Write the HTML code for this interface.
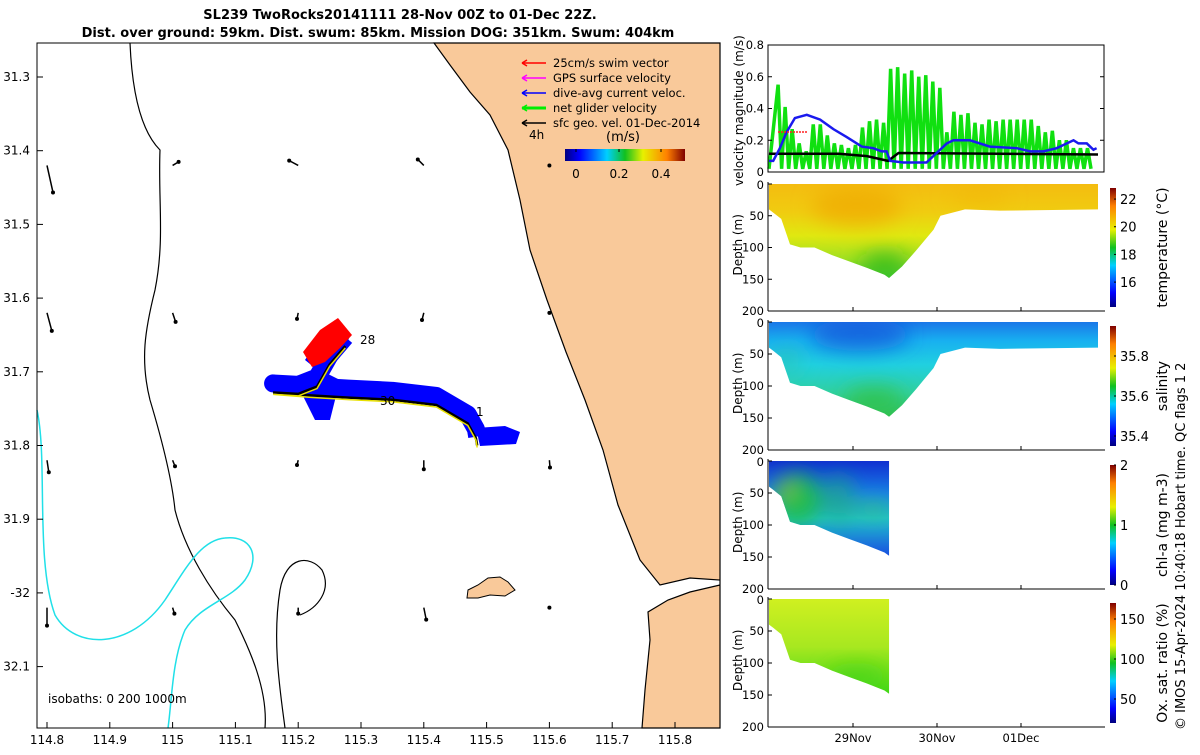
<!DOCTYPE html>
<html><head><meta charset="utf-8"><style>
body{margin:0;background:#fff;width:1200px;height:750px;overflow:hidden;font-family:"Liberation Sans","DejaVu Sans",sans-serif}
svg text{font-family:"DejaVu Sans","Liberation Sans",sans-serif}
</style></head><body>
<svg id="fig" width="1200" height="750" viewBox="0 0 1200 750" xmlns="http://www.w3.org/2000/svg">
<defs>
<filter id="blur" x="-50%" y="-50%" width="200%" height="200%"><feGaussianBlur stdDeviation="10"/></filter>
<linearGradient id="jetH" x1="0" x2="1" y1="0" y2="0">
<stop offset="0" stop-color="#00007f"/><stop offset="0.12" stop-color="#0000ff"/><stop offset="0.35" stop-color="#00cfff"/><stop offset="0.5" stop-color="#10c020"/><stop offset="0.65" stop-color="#e8f000"/><stop offset="0.85" stop-color="#ff8000"/><stop offset="1" stop-color="#7f0000"/></linearGradient>
<linearGradient id="jetV" x1="0" x2="0" y1="1" y2="0">
<stop offset="0" stop-color="#00007f"/><stop offset="0.12" stop-color="#0000ff"/><stop offset="0.35" stop-color="#00cfff"/><stop offset="0.5" stop-color="#10c020"/><stop offset="0.65" stop-color="#e8f000"/><stop offset="0.85" stop-color="#ff8000"/><stop offset="1" stop-color="#7f0000"/></linearGradient>
<linearGradient id="tempG" x1="0" x2="0" y1="0" y2="1"><stop offset="0" stop-color="#f4bc10"/><stop offset="0.3" stop-color="#f0cc10"/><stop offset="0.55" stop-color="#e0e810"/><stop offset="0.8" stop-color="#a0e020"/><stop offset="1" stop-color="#40c830"/></linearGradient>
<linearGradient id="salG" x1="0" x2="0" y1="0" y2="1"><stop offset="0" stop-color="#1a78e8"/><stop offset="0.2" stop-color="#18b0f0"/><stop offset="0.45" stop-color="#20d0e0"/><stop offset="0.75" stop-color="#30d0a0"/><stop offset="1" stop-color="#30c050"/></linearGradient>
<linearGradient id="chlG" x1="0" x2="0" y1="0" y2="1"><stop offset="0" stop-color="#1030d0"/><stop offset="0.35" stop-color="#1880e8"/><stop offset="0.6" stop-color="#20c0d0"/><stop offset="1" stop-color="#1850e0"/></linearGradient>
<linearGradient id="oxG" x1="0" x2="0" y1="0" y2="1"><stop offset="0" stop-color="#d0f020"/><stop offset="0.5" stop-color="#a8e820"/><stop offset="1" stop-color="#40d818"/></linearGradient>
</defs>
<g id="map"></g>
<g id="vel"></g>
<g id="secs"></g>
<text x="400" y="19" text-anchor="middle" font-size="13" font-weight="bold">SL239 TwoRocks20141111 28-Nov 00Z to 01-Dec 22Z.</text>
<text x="378" y="37" text-anchor="middle" font-size="13" font-weight="bold">Dist. over ground: 59km. Dist. swum: 85km. Mission DOG: 351km. Swum: 404km</text>
<text transform="translate(1185,730) rotate(-90)" font-size="13">© IMOS 15-Apr-2024 10:40:18 Hobart time. QC flags 1  2</text>
</svg>
<script>
const NS="http://www.w3.org/2000/svg";
function mk(p,t,a){const e=document.createElementNS(NS,t);for(const k in a)e.setAttribute(k,a[k]);p.appendChild(e);return e;}
// ---------- MAP ----------
const lonTicks=[114.8,114.9,115,115.1,115.2,115.3,115.4,115.5,115.6,115.7,115.8];
const latTicks=[31.3,31.4,31.5,31.6,31.7,31.8,31.9,32,32.1];
const latLabels=["31.3","31.4","31.5","31.6","31.7","31.8","31.9","-32","32.1"];
const arrowLon=[114.8,115,115.2,115.4,115.6];
const arrowLat=[31.42,31.62,31.82,32.02,32.22];
const arrowU=[[0.1,0.1,-0.15,-0.1,0],[0.08,0.05,-0.02,-0.03,0],[0.03,0.04,-0.02,0.0,0.01],[0,0.03,0,0.04,0.0],[0,0,0,0,0]];
const arrowV=[[0.45,-0.06,-0.08,-0.1,0],[0.3,0.15,0.1,0.12,0],[0.2,0.1,0.08,0.15,0.12],[0.3,0.1,0.1,0.2,0],[0.1,0.1,0.05,0.05,0]];
const trackLon=[115.485,115.483,115.47,115.42,115.35,115.28,115.22,115.16,115.2,115.23,115.25,115.275];
const trackLat=[31.80,31.79,31.77,31.745,31.738,31.735,31.732,31.728,31.73,31.72,31.69,31.665];
const lx=l=>47+(l-114.8)*628, ly=l=>77+(l-31.3)*737;
const map=document.getElementById('map');
const land=mk(map,'polygon',{points:"434,43 720,43 720,728 642,728 645,690 650,640 648,612 668,600 690,592 720,585 720,580 690,578 660,585 640,560 618,505 603,450 585,400 566,352 547,300 530,250 520,200 508,150 490,115 470,92 450,65",fill:"#f9c99a",stroke:"#000","stroke-width":1.2});

const isl=mk(map,'polygon',{points:"468,590 478,585 488,578 500,577 508,582 515,590 505,596 490,595 478,598 467,598",fill:"#f9c99a",stroke:"#000","stroke-width":1});

const iso1=mk(map,'path',{d:"M130,43 C132,90 140,130 160,150 C158,200 165,240 155,290 C145,330 140,360 150,400 C162,440 172,480 175,510 C185,550 210,590 235,620 C250,650 268,690 265,728",fill:"none",stroke:"#000","stroke-width":1.2});

const iso2=mk(map,'path',{d:"M285,728 C280,690 272,640 280,590 C286,555 310,555 322,570 C332,590 318,608 300,615",fill:"none",stroke:"#000","stroke-width":1.2});

const iso3=mk(map,'path',{d:"M37,410 C48,460 35,560 55,615 C75,650 130,650 165,600 C185,570 200,540 225,538 C250,535 262,555 245,580 C230,600 200,605 185,630 C172,660 172,700 168,728",fill:"none",stroke:"#20e0e8","stroke-width":1.5});

mk(map,'rect',{x:37,y:43,width:683,height:685,fill:"none",stroke:"#000","stroke-width":1});
lonTicks.forEach(l=>{const x=lx(l);mk(map,'line',{x1:x,x2:x,y1:728,y2:722,stroke:"#000"});const t=mk(map,'text',{x:x,y:744,"text-anchor":"middle","font-size":12});t.textContent=String(l);});
latTicks.forEach((l,i)=>{const y=ly(l);mk(map,'line',{x1:37,x2:43,y1:y,y2:y,stroke:"#000"});const t=mk(map,'text',{x:30,y:y+4,"text-anchor":"end","font-size":12});t.textContent=latLabels[i];});
arrowLon.forEach((lo,i)=>arrowLat.forEach((la,j)=>{const x=lx(lo),y=ly(la);if(y>726)return;const u=arrowU[j][i],v=arrowV[j][i];
 const a=mk(map,'line',{x1:x,y1:y,x2:x+u*60,y2:y+v*60,stroke:"#000","stroke-width":1.5});
 
 mk(map,'circle',{cx:x+u*60,cy:y+v*60,r:2,fill:"#000"});}));
const pts=trackLon.map((l,i)=>lx(l)+','+ly(trackLat[i])).join(' ');
const blob=mk(map,'polyline',{points:trackLon.map((l,i)=>lx(l)+','+(ly(trackLat[i])-9)).join(' '),fill:"none",stroke:"#0000ff","stroke-width":18,"stroke-linejoin":"round"});

mk(map,'polygon',{points:"476,428 505,426 520,432 516,444 480,446",fill:"#0000ff"});
mk(map,'polygon',{points:"320,372 305,360 318,340 335,320 350,335 345,350 330,370",fill:"#0000ff"});
mk(map,'polygon',{points:"300,390 320,370 340,380 330,420 315,420",fill:"#0000ff"});
const red=mk(map,'polygon',{points:"303,352 320,330 338,318 352,335 340,348 325,362 312,367",fill:"#ff0000"});

const tr=mk(map,'polyline',{points:pts,fill:"none",stroke:"#000","stroke-width":2.5});

mk(map,'polyline',{points:trackLon.map((l,i)=>lx(l)+','+(ly(trackLat[i])+2)).join(' '),fill:"none",stroke:"#e8e000","stroke-width":1.5});
[["1",476,416],["28",360,344],["30",380,405]].forEach(d=>{const t=mk(map,'text',{x:d[1],y:d[2],"font-size":12});t.textContent=d[0];});
const isoT=mk(map,'text',{x:48,y:703,"font-size":12});isoT.textContent="isobaths: 0   200  1000m";
const legC=["#ff0000","#ff00ff","#0000ff","#00ee00","#000"],legT=["25cm/s swim vector","GPS surface velocity","dive-avg current veloc.","net glider velocity","sfc geo. vel. 01-Dec-2014"];
legC.forEach((c,i)=>{const y=63+i*15;const l=mk(map,'line',{x1:522,x2:546,y1:y,y2:y,stroke:c,"stroke-width":i==3?3:1.5});
 mk(map,'path',{d:`M522,${y} l5,-3 M522,${y} l5,3`,stroke:c,"stroke-width":1.5});
 const t=mk(map,'text',{x:553,y:y+4,"font-size":11.5});t.textContent=legT[i];});
let t=mk(map,'text',{x:529,y:139,"font-size":12});t.textContent="4h";
t=mk(map,'text',{x:606,y:141,"font-size":13});t.textContent="(m/s)";
const cb=mk(map,'rect',{x:565,y:149,width:120,height:12,fill:"url(#jetH)"});
[["0",576],["0.2",619],["0.4",661]].forEach(d=>{mk(map,'line',{x1:d[1],x2:d[1],y1:149,y2:152,stroke:"#000"});const q=mk(map,'text',{x:d[1],y:178,"text-anchor":"middle","font-size":12});q.textContent=d[0];});

// ---------- VELOCITY PANEL ----------
const greenPeaks=[0.55,0.41,0.27,0.18,0.13,0.3,0.3,0.23,0.18,0.17,0.15,0.17,0.28,0.32,0.33,0.31,0.65,0.66,0.62,0.64,0.6,0.61,0.57,0.53,0.25,0.38,0.36,0.37,0.31,0.3,0.33,0.32,0.33,0.33,0.33,0.33,0.33,0.29,0.25,0.26,0.2,0.2,0.15,0.15,0.15];
const greenTrough=0.02;
const blueHours=[0,1.2,3.1,5,7.4,10.8,14.6,18.4,22.2,26.5,29.8,32.2,33.6,34.6,38.4,45,47.9,50.8,52.7,57.4,63.1,70.8,74.6,78.4,82.2,87,88.4,90.8,92.7,93.6];
const blueVals=[0.07,0.07,0.15,0.25,0.34,0.36,0.33,0.27,0.22,0.16,0.15,0.13,0.13,0.07,0.06,0.06,0.12,0.18,0.2,0.2,0.16,0.15,0.13,0.13,0.15,0.2,0.18,0.18,0.14,0.15];
const blackHours=[0,20,28,34,37,94];
const blackVals=[0.115,0.115,0.1,0.07,0.12,0.11];
const velTicks=[0,0.2,0.4,0.6,0.8];
const vx=h=>769+h*3.5, vy=v=>172-v*158.75;
const vel=document.getElementById('vel');
const gp=[];const h0=2.6,h1=91,n=greenPeaks.length,step=(h1-h0)/(n-1);
gp.push([vx(0),vy(greenTrough)]);
greenPeaks.forEach((p,i)=>{const h=h0+i*step;gp.push([vx(h),vy(p)]);gp.push([vx(h+step/2),vy(greenTrough)]);});
const gl=mk(vel,'polyline',{points:gp.map(p=>p.join(',')).join(' '),fill:"none",stroke:"#10e010","stroke-width":3.5});

const kl=mk(vel,'polyline',{points:blackHours.map((h,i)=>vx(h)+','+vy(blackVals[i])).join(' '),fill:"none",stroke:"#000","stroke-width":2.5});

const bl=mk(vel,'polyline',{points:blueHours.map((h,i)=>vx(h)+','+vy(blueVals[i])).join(' '),fill:"none",stroke:"#1a1aee","stroke-width":2.5});

mk(vel,'line',{x1:778,x2:808,y1:132,y2:132,stroke:"#ff2020","stroke-width":1.5,"stroke-dasharray":"2,1"});
mk(vel,'rect',{x:768,y:45,width:336,height:127,fill:"none",stroke:"#000"});
velTicks.forEach(v=>{const y=vy(v);mk(vel,'line',{x1:768,x2:772,y1:y,y2:y,stroke:"#000"});mk(vel,'line',{x1:1100,x2:1104,y1:y,y2:y,stroke:"#000"});const q=mk(vel,'text',{x:764,y:y+4,"text-anchor":"end","font-size":11.5});q.textContent=v===0?"0":String(v);});
t=mk(vel,'text',{transform:"translate(743,186) rotate(-90)","font-size":12});t.textContent="velocity magnitude (m/s)";

// ---------- SECTIONS ----------
const profHours=[0,1.2,3.5,6,9,13,18,23,28,33,34.3];
const profDepth=[40,45,55,95,100,100,112,122,132,143,148];
const tempHours=[34.3,38,42,47,49,56,66,94];
const tempDepth=[148,130,105,72,50,40,42,40];
const depthTicks=[0,50,100,150,200];
const dayLabels=["29Nov","30Nov","01Dec"];
const dayHours=[24,48,72];
const secs=document.getElementById('secs');
const panels=[
 {top:184,bot:311,fill:"url(#tempG)",full:true,cb:{ticks:[16,18,20,22],min:14.2,max:22.8,lab:"temperature (°C)"},name:"temperature",
  blobs:[[25,35,45,30,"#f0a800",0.7],[33,125,25,18,"#20b020",0.7],[60,20,30,15,"#f0b000",0.4]]},
 {top:322,bot:450,fill:"url(#salG)",full:true,cb:{ticks:[35.4,35.6,35.8],lbl:["35.4","35.6","35.8"],min:35.35,max:35.95,lab:"salinity"},name:"salinity",
  blobs:[[26,20,50,25,"#1050d8",0.7],[30,120,30,18,"#30c040",0.8],[5,60,15,20,"#30c0a0",0.5]]},
 {top:461,bot:589,fill:"url(#chlG)",full:false,cb:{ticks:[0,1,2],min:0,max:2,lab:"chl-a (mg m-3)"},name:"chl-a",
  blobs:[[8,60,25,40,"#20c040",0.9],[20,60,15,40,"#20b070",0.6],[30,75,20,15,"#30c070",0.6],[5,45,4,7,"#f0c000",1]]},
 {top:599,bot:727,fill:"url(#oxG)",full:false,cb:{ticks:[50,100,150],min:20,max:170,lab:"Ox. sat. ratio (%)"},name:"oxygen",
  blobs:[[25,120,30,20,"#40d018",0.6]]}];
panels.forEach((P,pi)=>{
 const dy=d=>P.top+d*(P.bot-P.top)/200;
 let pts=[[vx(0),dy(0)]];
 if(P.full){pts.push([vx(94),dy(0)]);for(let i=tempHours.length-1;i>=0;i--)pts.push([vx(tempHours[i]),dy(tempDepth[i])]);}
 else{pts.push([vx(34.3),dy(0)]);}
 for(let i=profHours.length-1;i>=0;i--)pts.push([vx(profHours[i]),dy(profDepth[i])]);
 const ps=pts.map(p=>p.join(',')).join(' ');
 const cp=mk(document.querySelector('defs'),'clipPath',{id:'cp'+pi});mk(cp,'polygon',{points:ps});
 const poly=mk(secs,'polygon',{points:ps,fill:P.fill});
 
 const g=mk(secs,'g',{"clip-path":`url(#cp${pi})`});
 const g2=mk(g,'g',{filter:"url(#blur)"});
 P.blobs.forEach(b=>mk(g2,'ellipse',{cx:vx(b[0]),cy:dy(b[1]),rx:b[2]*(b[2]<6?1:1),ry:b[3]*0.64,fill:b[4],opacity:b[5]}));
 mk(secs,'line',{x1:768,x2:768,y1:P.top-2,y2:P.bot,stroke:"#000"});
 mk(secs,'line',{x1:768,x2:1105,y1:P.bot,y2:P.bot,stroke:"#000"});
 depthTicks.forEach(d=>{const y=dy(d);mk(secs,'line',{x1:768,x2:772,y1:y,y2:y,stroke:"#000"});const q=mk(secs,'text',{x:764,y:y+(d===0?5:4),"text-anchor":"end","font-size":11.5});q.textContent=String(d);});
 dayHours.forEach(h=>mk(secs,'line',{x1:vx(h),x2:vx(h),y1:P.bot,y2:P.bot-4,stroke:"#000"}));
 const q=mk(secs,'text',{transform:`translate(742,${(P.top+P.bot)/2+28}) rotate(-90)`,"font-size":12});q.textContent="Depth (m)";
 const c=P.cb,cy0=P.top+4,cy1=P.bot-4;const cyv=v=>cy1-(v-c.min)/(c.max-c.min)*(cy1-cy0);
 const r=mk(secs,'rect',{x:1110,y:cy0,width:6,height:cy1-cy0,fill:"url(#jetV)"});
 c.ticks.forEach((v,i)=>{const y=cyv(v);mk(secs,'line',{x1:1114,x2:1116,y1:y,y2:y,stroke:"#000"});const s=mk(secs,'text',{x:1120,y:y+5,"font-size":13});s.textContent=c.lbl?c.lbl[i]:String(v);});
 const lt=mk(secs,'text',{transform:`translate(1167,${(P.top+P.bot)/2}) rotate(-90)`,"text-anchor":"middle","font-size":14});lt.textContent=c.lab;
});
dayLabels.forEach((d,i)=>{const q=mk(secs,'text',{x:vx(dayHours[i]),y:742,"text-anchor":"middle","font-size":11.5});q.textContent=d;});
</script>
</body></html>
